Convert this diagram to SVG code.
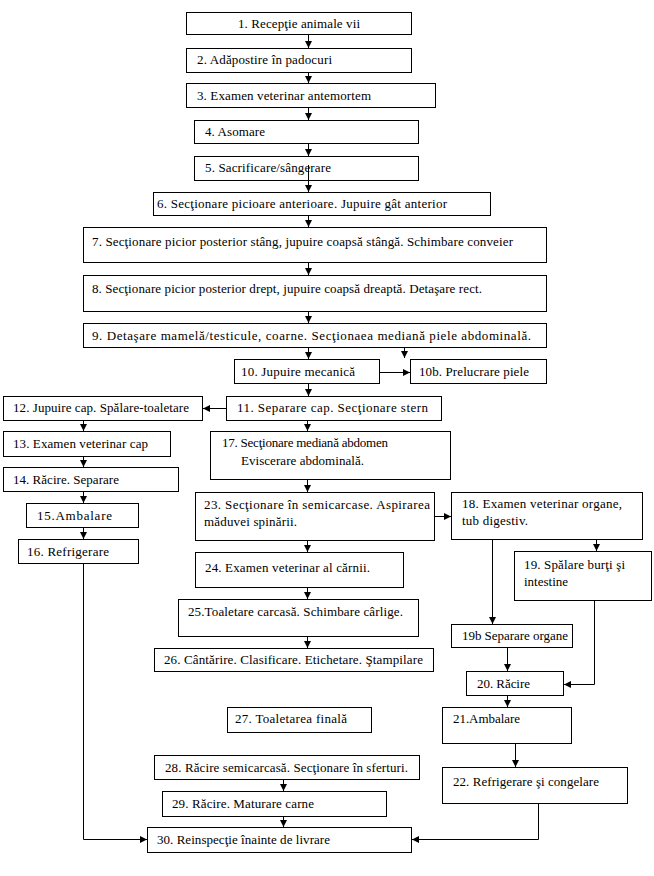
<svg xmlns="http://www.w3.org/2000/svg" width="654" height="876" viewBox="0 0 654 876">
<style>
.b rect{fill:#fff;stroke:#000;stroke-width:1}
.c path{fill:none;stroke:#000;stroke-width:1}
.c path.a{marker-end:url(#ah)}
</style>
<defs>
<marker id="ah" viewBox="0 0 10 10" refX="10" refY="5" markerWidth="7" markerHeight="7" markerUnits="userSpaceOnUse" orient="auto">
<path d="M0,0 L10,5 L0,10 z" fill="#000"/>
</marker>
</defs>
<rect width="654" height="876" fill="#fff"/>
<g class="b" font-family="'Liberation Serif', 'Times New Roman', serif" font-size="13" fill="#000">
<g id="n1"><rect x="186.5" y="12.5" width="225" height="22"/><text x="238" y="28" textLength="122">1. Recepţie animale vii</text></g>
<g id="n2"><rect x="186.5" y="48.5" width="225" height="24"/><text x="197" y="64" textLength="135">2. Adăpostire în padocuri</text></g>
<g id="n3"><rect x="186.5" y="83.5" width="249" height="24"/><text x="197" y="100" textLength="174">3. Examen veterinar antemortem</text></g>
<g id="n4"><rect x="194.5" y="120.5" width="224" height="23"/><text x="205" y="136" textLength="60">4. Asomare</text></g>
<g id="n5"><rect x="194.5" y="156.5" width="224" height="24"/><text x="205" y="172" textLength="126">5. Sacrificare/sângerare</text></g>
<g id="n6"><rect x="153.5" y="192.5" width="337" height="23"/><text x="157" y="208" textLength="290">6. Secţionare picioare anterioare. Jupuire gât anterior</text></g>
<g id="n7"><rect x="83.5" y="227.5" width="463" height="35"/><text x="92" y="246" textLength="421">7. Secţionare picior posterior stâng, jupuire coapsă stângă. Schimbare conveier</text></g>
<g id="n8"><rect x="83.5" y="275.5" width="463" height="36"/><text x="92" y="293" textLength="390">8. Secţionare picior posterior drept, jupuire coapsă dreaptă. Detaşare rect.</text></g>
<g id="n9"><rect x="83.5" y="323.5" width="463" height="24"/><text x="92" y="340" textLength="439">9. Detaşare mamelă/testicule, coarne. Secţionaea mediană piele abdominală.</text></g>
<g id="n10"><rect x="234.5" y="359.5" width="145" height="24"/><text x="241" y="376" textLength="114">10. Jupuire  mecanică</text></g>
<g id="n10b"><rect x="410.5" y="359.5" width="136" height="24"/><text x="419" y="376" textLength="110">10b. Prelucrare piele</text></g>
<g id="n11"><rect x="226.5" y="396.5" width="215" height="24"/><text x="237" y="412" textLength="191">11. Separare cap. Secţionare stern</text></g>
<g id="n12"><rect x="3.5" y="396.5" width="199" height="24"/><text x="13" y="412" textLength="176">12. Jupuire cap. Spălare-toaletare</text></g>
<g id="n13"><rect x="3.5" y="431.5" width="167" height="25"/><text x="13" y="448" textLength="135">13. Examen veterinar cap</text></g>
<g id="n14"><rect x="3.5" y="467.5" width="175" height="24"/><text x="13" y="484" textLength="106">14. Răcire. Separare</text></g>
<g id="n15"><rect x="26.5" y="503.5" width="112" height="24"/><text x="37" y="520" textLength="75">15.Ambalare</text></g>
<g id="n16"><rect x="18.5" y="539.5" width="120" height="24"/><text x="27" y="556" textLength="82">16. Refrigerare</text></g>
<g id="n17"><rect x="210.5" y="431.5" width="240" height="48"/><text x="222" y="447" textLength="166">17. Secţionare mediană abdomen</text><text x="241" y="465" textLength="123">Eviscerare abdominală.</text></g>
<g id="n23"><rect x="195.5" y="492.5" width="239" height="48"/><text x="204" y="509" textLength="226">23. Secţionare în semicarcase. Aspirarea</text><text x="204" y="526" textLength="93">măduvei spinării.</text></g>
<g id="n18"><rect x="451.5" y="492.5" width="191" height="47"/><text x="462" y="508" textLength="160">18. Examen veterinar organe,</text><text x="462" y="525" textLength="66">tub digestiv.</text></g>
<g id="n19"><rect x="514.5" y="551.5" width="137" height="49"/><text x="524" y="569" textLength="101">19. Spălare burţi şi</text><text x="524" y="586" textLength="44">intestine</text></g>
<g id="n24"><rect x="195.5" y="552.5" width="208" height="35"/><text x="205" y="572" textLength="165">24. Examen veterinar al cărnii.</text></g>
<g id="n25"><rect x="178.5" y="599.5" width="240" height="37"/><text x="188" y="616" textLength="215">25.Toaletare carcasă. Schimbare cârlige.</text></g>
<g id="n19b"><rect x="451.5" y="624.5" width="121" height="23"/><text x="462" y="640" textLength="106">19b Separare organe</text></g>
<g id="n26"><rect x="154.5" y="648.5" width="279" height="23"/><text x="164" y="664" textLength="259">26. Cântărire. Clasificare. Etichetare. Ştampilare</text></g>
<g id="n20"><rect x="466.5" y="671.5" width="97" height="24"/><text x="477" y="688" textLength="53">20. Răcire</text></g>
<g id="n27"><rect x="227.5" y="707.5" width="144" height="25"/><text x="235" y="723" textLength="112">27. Toaletarea finală</text></g>
<g id="n21"><rect x="442.5" y="707.5" width="129" height="36"/><text x="453" y="723" textLength="67">21.Ambalare</text></g>
<g id="n28"><rect x="154.5" y="755.5" width="265" height="24"/><text x="165" y="772" textLength="243">28. Răcire semicarcasă. Secţionare în sferturi.</text></g>
<g id="n22"><rect x="442.5" y="767.5" width="185" height="36"/><text x="453" y="786" textLength="146">22. Refrigerare şi congelare</text></g>
<g id="n29"><rect x="162.5" y="791.5" width="224" height="25"/><text x="172" y="808" textLength="142">29. Răcire. Maturare carne</text></g>
<g id="n30"><rect x="147.5" y="827.5" width="264" height="25"/><text x="157" y="844" textLength="173">30. Reinspecţie înainte de livrare</text></g>
</g>
<g class="c" id="connectors">
<path class="a" d="M308.5,35 V48"/>
<path class="a" d="M308.5,73 V83"/>
<path class="a" d="M308.5,108 V120"/>
<path class="a" d="M308.5,144 V156"/>
<path class="a" d="M308.5,165 V192"/>
<path class="a" d="M308.5,216 V227"/>
<path class="a" d="M308.5,263 V275"/>
<path class="a" d="M308.5,312 V323"/>
<path class="a" d="M308.5,348 V359"/>
<path class="a" d="M404.5,348 V358"/>
<path class="a" d="M380,372.5 H410"/>
<path class="a" d="M308.5,384 V396"/>
<path class="a" d="M226,408.5 H203"/>
<path class="a" d="M307.5,421 V431"/>
<path class="a" d="M307.5,480 V492"/>
<path class="a" d="M435,516.5 H451"/>
<path class="a" d="M307.5,541 V552"/>
<path class="a" d="M307.5,588 V599"/>
<path class="a" d="M307.5,637 V648"/>
<path class="a" d="M83.5,421 V431"/>
<path class="a" d="M83.5,457 V467"/>
<path class="a" d="M83.5,492 V503"/>
<path class="a" d="M83.5,528 V539"/>
<path class="a" d="M83.5,564 V839.5 H147"/>
<path class="a" d="M492.5,540 V624"/>
<path class="a" d="M596.5,540 V551"/>
<path class="a" d="M594.5,601 V684.5 H564"/>
<path class="a" d="M507.5,648 V671"/>
<path class="a" d="M507.5,696 V707"/>
<path class="a" d="M515.5,744 V767"/>
<path class="a" d="M538.5,804 V839.5 H412"/>
<path class="a" d="M283.5,780 V791"/>
<path class="a" d="M283.5,817 V827"/>
</g>
</svg>
